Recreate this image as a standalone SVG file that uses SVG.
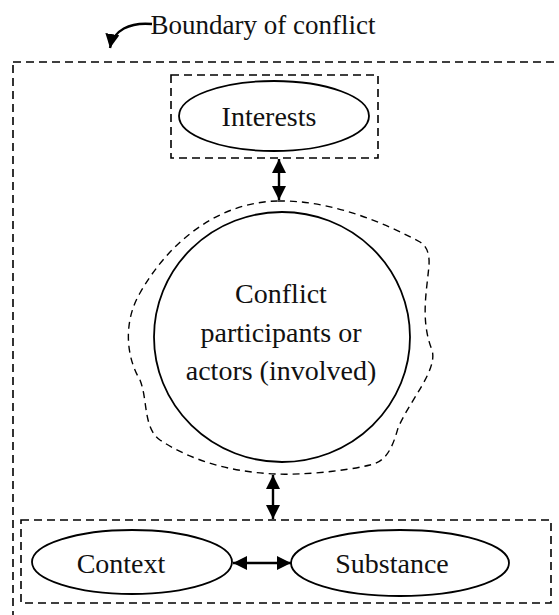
<svg xmlns="http://www.w3.org/2000/svg" width="559" height="615" viewBox="0 0 559 615">
<style>
text{font-family:"Liberation Serif","Times New Roman",serif;font-size:28px;fill:#111;text-anchor:middle}
.box{fill:none;stroke:#000;stroke-width:1.6;stroke-dasharray:8 5}
.blob{fill:none;stroke:#000;stroke-width:1.4;stroke-dasharray:7 5}
.node{fill:#fff;stroke:#000;stroke-width:1.8}
.arr{fill:none;stroke:#000;stroke-width:2.4}
</style>
<defs>
<marker id="ah" viewBox="0 0 14 14" refX="14" refY="7" markerWidth="14" markerHeight="14" markerUnits="userSpaceOnUse" orient="auto-start-reverse">
<path d="M0,0 L14,7 L0,14 Z" fill="#000"/>
</marker>
</defs>
<rect x="0" y="0" width="559" height="615" fill="#fff"/>
<g id="boundary">
<rect class="box" x="13" y="62" width="560" height="570"/>
<text x="263" y="34" style="font-size:27px">Boundary of conflict</text>
</g>
<g id="interests">
<rect class="box" x="171" y="75" width="207" height="83"/>
<ellipse class="node" cx="274" cy="116" rx="95" ry="35"/>
<text x="269" y="126">Interests</text>
</g>
<g id="participants">
<path class="blob" d="M278 201 C320 200 370 215 420 242 Q430 248 429 265 C427 290 420 320 432 350 C438 370 410 400 398 428 C392 450 385 462 370 465 C340 472 300 475 275 474 C230 472 190 460 160 440 C143 428 148 400 140 380 C125 355 124 320 140 293 C170 240 220 202 278 201 Z"/>
<ellipse class="node" cx="282" cy="337" rx="128" ry="125"/>
<text x="281" y="303">Conflict</text>
<text x="281" y="342">participants or</text>
<text x="281" y="380">actors (involved)</text>
</g>
<g id="bottom">
<rect class="box" x="21" y="520" width="530" height="83"/>
</g>
<g id="context">
<ellipse class="node" cx="132" cy="562" rx="100" ry="32"/>
<text x="121" y="573">Context</text>
</g>
<g id="substance">
<ellipse class="node" cx="400" cy="563" rx="109" ry="33"/>
<text x="392" y="573">Substance</text>
</g>
<g id="connectors">
<path class="arr" d="M152 24 C130 22 113 30 110 48" marker-end="url(#ah)"/>
<line class="arr" x1="279" y1="159" x2="279" y2="200" marker-start="url(#ah)" marker-end="url(#ah)"/>
<line class="arr" x1="273" y1="475" x2="273" y2="519" marker-start="url(#ah)" marker-end="url(#ah)"/>
<line class="arr" x1="233" y1="563" x2="291" y2="563" marker-start="url(#ah)" marker-end="url(#ah)"/>
</g>
</svg>
